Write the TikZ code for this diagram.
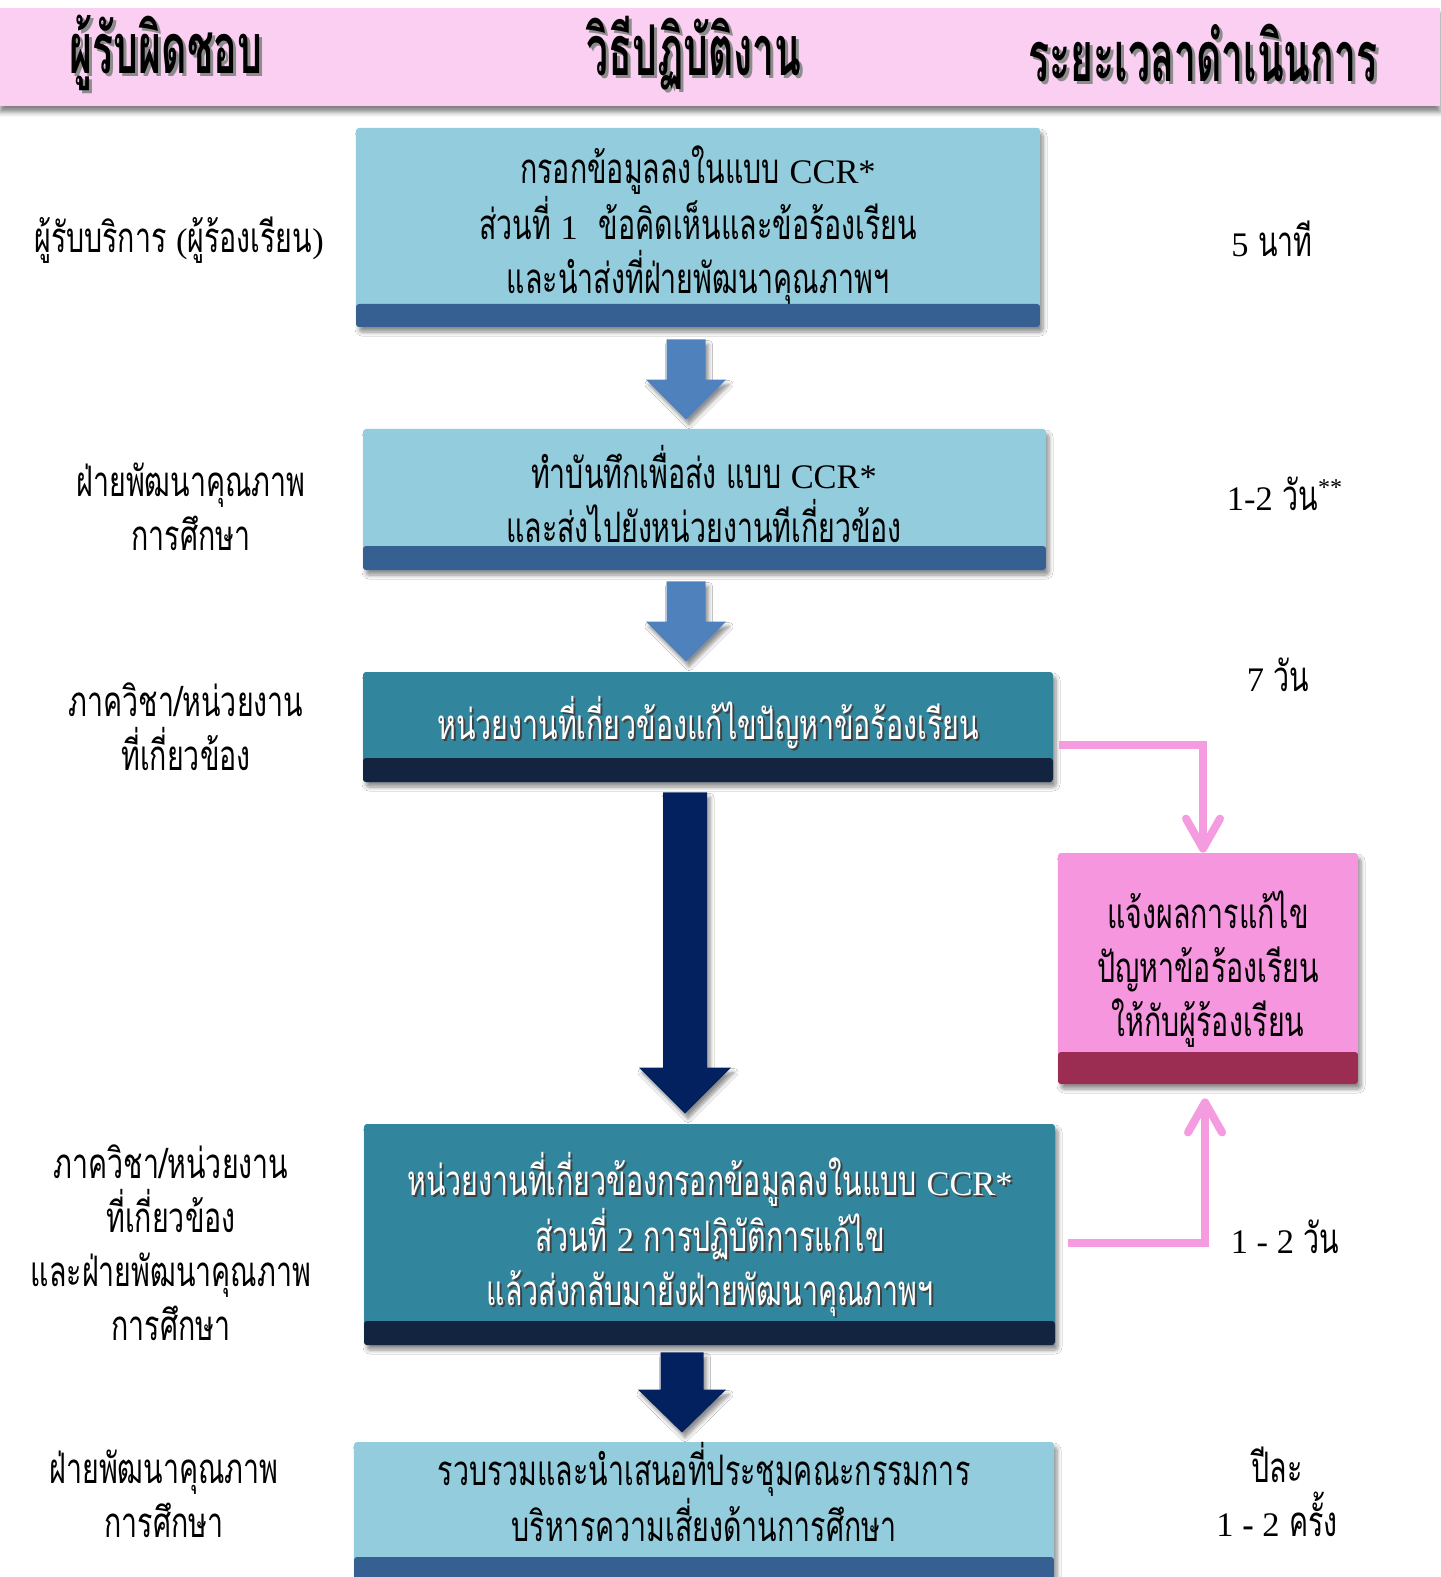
\documentclass[tikz,border=0pt]{standalone}
\usepackage{fontspec}
\usetikzlibrary{shadows,shadows.blur,calc,arrows.meta}
\newfontfamily\thai[Script=Thai,FakeStretch=0.68]{Loma}
\newfontfamily\thaihead[Script=Thai,FakeStretch=0.56]{Loma}
\newfontfamily\lat[Scale=0.82]{Liberation Serif}
\definecolor{hdrpink}{HTML}{FBCFF1}
\definecolor{lblue}{HTML}{93CDDD}
\definecolor{dblue}{HTML}{376092}
\definecolor{teal}{HTML}{31859C}
\definecolor{dnavy}{HTML}{12243F}
\definecolor{arrblue}{HTML}{4F81BD}
\definecolor{arrnavy}{HTML}{03215E}
\definecolor{pinkfill}{HTML}{F596DE}
\definecolor{pinkstrip}{HTML}{9B2C52}
\definecolor{pinkline}{HTML}{F59BE0}
\newcommand\shtext[3]{\makebox[0pt][l]{\raisebox{-#2}[0pt][0pt]{\hspace{#2}\textcolor{#1}{#3}}}#3}
\newcommand\blockarr[6]{\fill[#1] let \p1=#2, \p2=#3 in (\x1-#4,\y1) -- (\x1+#4,\y1) -- (\x1+#4,\y2+#6) -- (\x1+#5,\y2+#6) -- (\x1,\y2) -- (\x1-#5,\y2+#6) -- (\x1-#4,\y2+#6) -- cycle;}
\tikzset{
  softshadow/.style={blur shadow={shadow xshift=1.5pt,shadow yshift=-2.5pt,shadow blur radius=2pt,shadow blur steps=6,shadow opacity=45}},
  cardbox/.style n args={3}{rectangle, rounded corners=1.5pt, fill=#1, softshadow,
    path picture={\fill[#2] (path picture bounding box.south west) rectangle ([yshift=#3]path picture bounding box.south east);}},
  boxtext/.style={font=\thai\fontsize{21}{27}\selectfont, align=center, inner sep=0pt, text=black},
  wboxtext/.style={font=\thai\fontsize{21}{27}\selectfont, align=center, inner sep=0pt, text=white},
  sidetext/.style={font=\thai\fontsize{21}{27}\selectfont, align=center, inner sep=0pt, text=black},
  headtext/.style={font=\thaihead\bfseries\fontsize{35}{40}\selectfont, inner sep=0pt, text=black},
  pinkconn/.style={draw=pinkline, line width=4pt, line join=miter,
    -{Straight Barb[length=15pt,width=17pt,line cap=round,line join=round]},
    preaction={draw=black!18, transform canvas={shift={(1pt,-1.5pt)}}}},
  blueblock/.style={fill=arrblue, softshadow},
  navyblock/.style={fill=arrnavy, softshadow}
}
\begin{document}
\begin{tikzpicture}[x=0.5pt,y=-0.5pt]
\useasboundingbox[fill=white] (0,0) rectangle (1440,1577);
% header band
\node[rectangle, fill=hdrpink, inner sep=0pt, minimum width=720pt, minimum height=49pt,
  blur shadow={shadow xshift=0pt,shadow yshift=-3pt,shadow blur radius=2.5pt,shadow opacity=50}] (hdr) at (720,57) {};
\node[headtext] (h1) at (166,53) {\shtext{black!45}{1.5pt}{ผู้รับผิดชอบ}};
\node[headtext] (h2) at (694,53) {\shtext{black!45}{1.5pt}{วิธีปฏิบัติงาน}};
\node[headtext] (h3) at (1203,53) {\shtext{black!45}{1.5pt}{ระยะเวลาดำเนินการ}};

% boxes
\node[cardbox={lblue}{dblue}{11.5pt}, minimum width=342pt, minimum height=99.5pt] (b1) at (698,227.5) {};
\node[cardbox={lblue}{dblue}{12pt}, minimum width=341.5pt, minimum height=70.5pt] (b2) at (704.5,499.5) {};
\node[cardbox={teal}{dnavy}{12pt}, minimum width=345pt, minimum height=55pt] (b3) at (708,727) {};
\node[cardbox={teal}{dnavy}{12pt}, minimum width=345.5pt, minimum height=110.5pt] (b4) at (709.5,1234.5) {};
\node[cardbox={lblue}{dblue}{21.5pt}, minimum width=350pt, minimum height=79pt] (b5) at (704,1521) {};
\node[cardbox={pinkfill}{pinkstrip}{16pt}, minimum width=150pt, minimum height=115.5pt] (pk) at (1208,968.5) {};

% box texts
\node[boxtext] (t1) at (698,225) {กรอกข้อมูลลงในแบบ {\lat CCR*}\\ส่วนที่ {\lat 1}\enspace ข้อคิดเห็นและข้อร้องเรียน\\และนำส่งที่ฝ่ายพัฒนาคุณภาพฯ};
\node[boxtext] (t2) at (704,494) {ทำบันทึกเพื่อส่ง แบบ {\lat CCR*}\\และส่งไปยังหน่วยงานทีเกี่ยวข้อง};
\node[wboxtext] (t3) at (708,723) {\shtext{black!75}{1pt}{หน่วยงานที่เกี่ยวข้องแก้ไขปัญหาข้อร้องเรียน}};
\node[wboxtext] (t4) at (710,1234) {\shtext{black!75}{1pt}{หน่วยงานที่เกี่ยวข้องกรอกข้อมูลลงในแบบ {\lat CCR*}}\\\shtext{black!75}{1pt}{ส่วนที่ {\lat 2} การปฏิบัติการแก้ไข}\\\shtext{black!75}{1pt}{แล้วส่งกลับมายังฝ่ายพัฒนาคุณภาพฯ}};
\node[boxtext] (t5) at (704,1492) {รวบรวมและนำเสนอที่ประชุมคณะกรรมการ\\บริหารความเสี่ยงด้านการศึกษา};
\node[boxtext] (tp) at (1208,969) {แจ้งผลการแก้ไข\\ปัญหาข้อร้องเรียน\\ให้กับผู้ร้องเรียน};

% left labels
\node[sidetext] (l1) at (179,240) {ผู้รับบริการ {\lat (}ผู้ร้องเรียน{\lat )}};
\node[sidetext] (l2) at (191,507) {ฝ่ายพัฒนาคุณภาพ\\การศึกษา};
\node[sidetext] (l3) at (186,727) {ภาควิชา/หน่วยงาน\\ที่เกี่ยวข้อง};
\node[sidetext] (l4) at (171,1243) {ภาควิชา/หน่วยงาน\\ที่เกี่ยวข้อง\\และฝ่ายพัฒนาคุณภาพ\\การศึกษา};
\node[sidetext] (l5) at (164,1494) {ฝ่ายพัฒนาคุณภาพ\\การศึกษา};

% right labels
\node[sidetext] (r1) at (1272,239) {{\lat 5} นาที};
\node[sidetext] (r2) at (1285,494) {{\lat 1-2} วัน\textsuperscript{\lat **}};
\node[sidetext] (r3) at (1278,675) {{\lat 7} วัน};
\node[sidetext] (r4) at (1285,1237) {{\lat 1 - 2} วัน};
\node[sidetext] (r5) at (1277,1492) {ปีละ\\{\lat 1 \textbf{-} 2} ครั้ง};

% block arrows
\blockarr{blueblock}{($(b1.south)+(-12,12)$)}{($(b2.north)+(0,-9)$)}{9.75pt}{20pt}{20pt}
\blockarr{blueblock}{($(b2.south)+(-18.5,11)$)}{($(b3.north)+(0,-10)$)}{9.75pt}{20pt}{20pt}
\blockarr{navyblock}{($(b3.south)+(-23,10)$)}{($(b4.north)+(0,-10)$)}{11pt}{23pt}{23pt}
\blockarr{navyblock}{($(b4.south)+(-27.5,7)$)}{($(b5.north)+(0,-9)$)}{10.75pt}{22pt}{21.5pt}

% pink connectors
\draw[pinkconn] ($(b3.east)+(6,18)$) -| ($(pk.north)+(-5,0)$);
\draw[pinkconn] ($(b4.east)+(13,8.5)$) -| ($(pk.south)+(-3,14)$);
\end{tikzpicture}
\end{document}
